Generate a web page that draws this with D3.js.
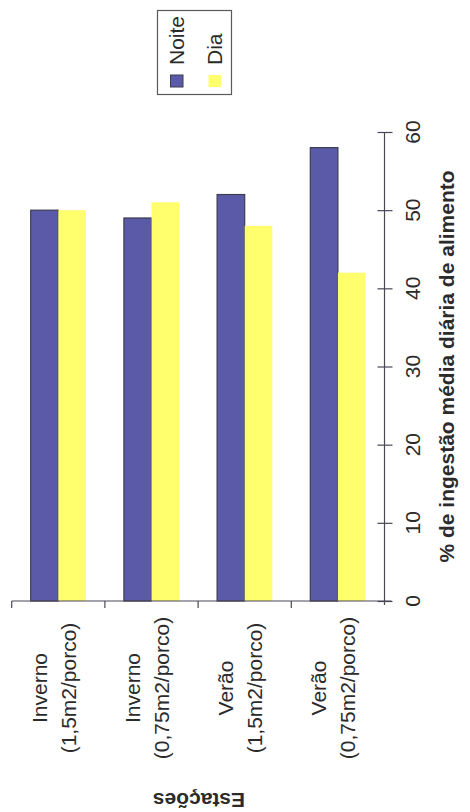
<!DOCTYPE html>
<html>
<head>
<meta charset="utf-8">
<script src="https://cdn.jsdelivr.net/npm/d3@7"></script>
<style>
  html, body { margin: 0; padding: 0; background: #ffffff; }
  svg { display: block; }
  text { font-family: "Liberation Sans", Arial, sans-serif; fill: #2b2b2b; }
</style>
</head>
<body>
<svg id="chart" width="470" height="812"></svg>
<script>
// Categories (two-line labels) and series values
const categories = ["Inverno (1,5m2/porco)", "Inverno (0,75m2/porco)", "Verão (1,5m2/porco)", "Verão (0,75m2/porco)"];
const categoryLines = [["Inverno", "(1,5m2/porco)"], ["Inverno", "(0,75m2/porco)"], ["Verão", "(1,5m2/porco)"], ["Verão", "(0,75m2/porco)"]];
const seriesNames = ["Noite", "Dia"];
const noite = [50, 49, 52, 58];
const dia = [50, 51, 48, 42];
const yTicks = [0, 10, 20, 30, 40, 50, 60];
const valueTitle = "% de ingestão média diária de alimento";
const categoryTitle = "Estações";

const colors = { Noite: "#5a5aa8", Dia: "#ffff6e" };
const strokes = { Noite: "#3c3c50", Dia: "none" };

const svg = d3.select("#chart");

// Plot frame: bars rise from the category axis, value axis on the right
const plotLeft = 11.7, plotRight = 384.5, baseY = 601, topY = 132;

const x0 = d3.scaleBand().domain(categories).range([plotLeft, plotRight]);
const groupPad = 19;
const x1 = d3.scaleBand().domain(seriesNames).range([groupPad, x0.bandwidth() - groupPad]);
const y = d3.scaleLinear().domain([0, 60]).range([baseY, topY]);

const values = { Noite: noite, Dia: dia };
const rows = categories.map((c, i) => ({ cat: c, vals: seriesNames.map(s => ({ s, v: values[s][i] })) }));

// Bars
const g = svg.append("g");
g.selectAll("g.cat").data(rows).join("g")
  .attr("class", "cat")
  .attr("transform", d => `translate(${x0(d.cat)},0)`)
  .selectAll("rect").data(d => d.vals).join("rect")
  .attr("x", d => x1(d.s))
  .attr("y", d => y(d.v))
  .attr("width", x1.bandwidth())
  .attr("height", d => y(0) - y(d.v))
  .attr("fill", d => colors[d.s])
  .attr("stroke", d => strokes[d.s])
  .attr("stroke-width", 1.2);

// Category axis (horizontal, at zero)
const axisColor = "#4a4656";
svg.append("line")
  .attr("x1", plotLeft).attr("x2", plotRight + 7)
  .attr("y1", baseY).attr("y2", baseY)
  .attr("stroke", axisColor).attr("stroke-width", 1.2);
const boundaries = categories.map(c => x0(c));
svg.selectAll("line.ctick").data(boundaries).join("line")
  .attr("class", "ctick")
  .attr("x1", d => d).attr("x2", d => d)
  .attr("y1", baseY).attr("y2", baseY + 7)
  .attr("stroke", axisColor).attr("stroke-width", 1.2);

// Value axis (vertical, on the right) with crossing ticks
const yAxis = d3.axisRight(y).tickValues(yTicks).tickSize(8).tickFormat("");
const ay = svg.append("g").attr("transform", `translate(${plotRight},0)`).call(yAxis);
ay.select(".domain").attr("stroke", axisColor).attr("stroke-width", 1.2).attr("d", `M0,${topY}V${baseY + 4}`);
ay.selectAll(".tick line").attr("stroke", axisColor).attr("stroke-width", 1.2).attr("x1", -7);

// Value tick labels, rotated
svg.selectAll("text.ytl").data(yTicks).join("text")
  .attr("class", "ytl")
  .attr("transform", d => `translate(420,${y(d)}) rotate(-90)`)
  .attr("text-anchor", "middle")
  .attr("font-size", 21)
  .text(d => d);

// Value axis title
svg.append("text")
  .attr("transform", `translate(454,${(topY + baseY) / 2}) rotate(-90)`)
  .attr("text-anchor", "middle")
  .attr("font-size", 21)
  .attr("font-weight", "bold")
  .text(valueTitle);

// Category labels, two lines each, rotated
const labelMidY = 688;
const cl = svg.selectAll("g.clab").data(categories).join("g").attr("class", "clab");
cl.each(function (c, i) {
  const cx = x0(c) + x0.bandwidth() / 2;
  const lines = categoryLines[i];
  d3.select(this).selectAll("text").data(lines).join("text")
    .attr("transform", (d, j) => `translate(${cx - 11.5 + j * 29},${labelMidY}) rotate(-90)`)
    .attr("text-anchor", "middle")
    .attr("font-size", 21)
    .text(d => d);
});

// Category axis title (upside down)
svg.append("text")
  .attr("transform", `translate(199,793) rotate(180)`)
  .attr("text-anchor", "middle")
  .attr("font-size", 21)
  .attr("font-weight", "bold")
  .text(categoryTitle);

// Legend
const lg = svg.append("g");
lg.append("rect")
  .attr("x", 157.5).attr("y", 10.5).attr("width", 74).attr("height", 84)
  .attr("fill", "#ffffff").attr("stroke", "#5a5a5a").attr("stroke-width", 1.2);
const legendX = d3.scalePoint().domain(seriesNames).range([177, 215]);
const le = lg.selectAll("g.le").data(seriesNames).join("g").attr("class", "le");
le.append("rect")
  .attr("x", d => legendX(d) - 6.5).attr("y", 75)
  .attr("width", 12.5).attr("height", 12)
  .attr("fill", d => colors[d])
  .attr("stroke", d => strokes[d]).attr("stroke-width", 1);
le.append("text")
  .attr("transform", d => `translate(${legendX(d) + 6.5},65) rotate(-90)`)
  .attr("font-size", 21)
  .text(d => d);
</script>
</body>
</html>
